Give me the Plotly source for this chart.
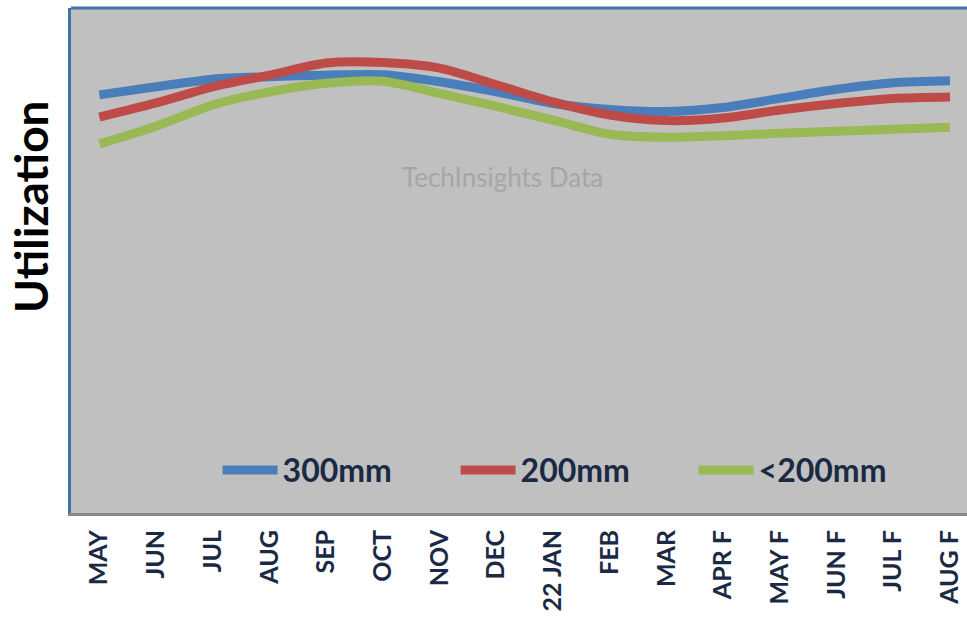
import plotly.graph_objects as go

months = ["MAY", "JUN", "JUL", "AUG", "SEP", "OCT", "NOV", "DEC", "22 JAN",
          "FEB", "MAR", "APR F", "MAY F", "JUN F", "JUL F", "AUG F"]
util_300 = [82.8, 84.4, 85.9, 86.4, 86.7, 86.8, 85.4, 83.4, 81.1, 79.9, 79.5,
            80.3, 82.1, 83.9, 85.2, 85.6]
util_200 = [78.4, 81.2, 84.4, 86.7, 89.1, 89.2, 88.1, 84.8, 81.4, 78.8, 77.7,
            78.2, 79.8, 81.1, 82.1, 82.4]
util_lt200 = [73.1, 76.6, 80.8, 83.4, 85.1, 85.5, 83.1, 80.5, 77.8, 75.0, 74.4,
              74.7, 75.2, 75.6, 76.0, 76.4]
series_names = ["300mm", "200mm", "<200mm"]
series_colors = ["#4A7EBB", "#BE4B48", "#98B954"]

NAVY = "#1B2A44"
FONT = "Lato"

fig = go.Figure()
for name, vals, col in zip(series_names, [util_300, util_200, util_lt200], series_colors):
    fig.add_trace(go.Scatter(
        x=months, y=vals, name=name, mode="lines",
        line=dict(color=col, width=9, shape="spline", smoothing=0.8),
    ))

fig.update_layout(
    width=967, height=620,
    margin=dict(l=71, r=0, t=8, b=107),
    paper_bgcolor="white",
    plot_bgcolor="#C0C0C0",
    showlegend=True,
    legend=dict(
        orientation="h", x=0.1636, y=0.085, xanchor="left", yanchor="middle",
        bgcolor="rgba(0,0,0,0)",
        font=dict(family=FONT, size=32, color=NAVY, weight="bold"),
        entrywidth=168, entrywidthmode="pixels",
        itemwidth=55,
    ),
    xaxis=dict(
        type="category",
        range=[-0.5, 15.30],
        showgrid=False, zeroline=False,
        showline=True, linecolor="#878787", linewidth=3,
        ticks="", tickangle=-90, ticklabelstandoff=4,
        tickfont=dict(family=FONT, size=25, color=NAVY, weight="bold"),
    ),
    yaxis=dict(
        range=[0, 100],
        showgrid=False, zeroline=False, showticklabels=False,
        showline=True, linecolor="#4372A8", linewidth=3, ticks="",
    ),
    shapes=[dict(type="line", xref="paper", yref="paper", x0=0, x1=1, y0=1, y1=1,
                 line=dict(color="#4372A8", width=3))],
    annotations=[
        dict(text="Utilization", xref="paper", yref="paper", x=-0.0446, y=0.606,
             xanchor="center", yanchor="middle", textangle=-90, showarrow=False,
             font=dict(family=FONT, size=46, color="black", weight="bold")),
        dict(text="TechInsights Data", xref="paper", yref="paper", x=0.482, y=0.665,
             xanchor="center", yanchor="middle", showarrow=False,
             font=dict(family=FONT, size=26, color="#A6A6A6")),
    ],
)

fig.write_html("out.html", config={"displayModeBar": False},
               post_script="document.body.style.margin='0';")
